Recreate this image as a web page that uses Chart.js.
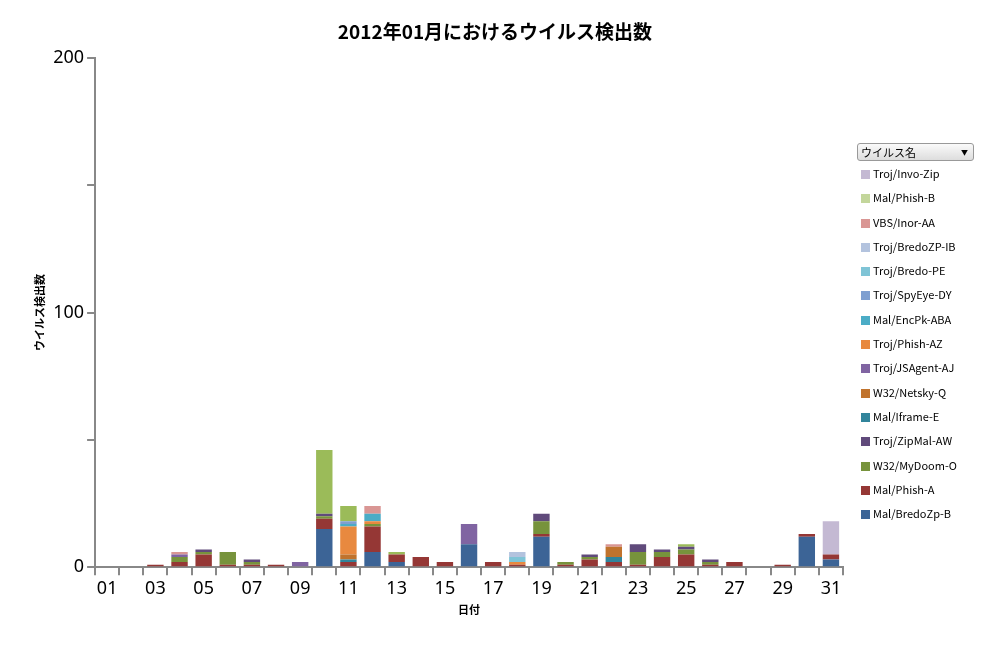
<!DOCTYPE html>
<html>
<head>
<meta charset="utf-8">
<script src="https://cdn.jsdelivr.net/npm/chart.js@4/dist/chart.umd.min.js"></script>
<style>
  body { margin: 0; background: #fff; font-family: "Noto Sans CJK JP", "DejaVu Sans", sans-serif; }
  #wrap { position: relative; width: 987px; height: 648px; }
  #title { position: absolute; left: 0; width: 990px; top: 17px; text-align: center; font-size: 19px; font-weight: bold; color: #000; }
  #legend { position: absolute; left: 857px; top: 143px; width: 117px; font-size: 11px; color: #000; }
  #legend .head { border: 1px solid #999; border-radius: 3px; background: linear-gradient(#fafafa, #ddd); height: 16px; line-height: 16px; padding-left: 3px; position: relative; }
  #legend .head:after { content: "▼"; position: absolute; right: 5px; font-size: 7px; }
  #legend .item { height: 24.3px; line-height: 24.3px; padding-left: 4px; }
  #legend .sw { display: inline-block; width: 9px; height: 9px; margin-right: 3px; vertical-align: -1px; }
</style>
</head>
<body>
<div id="wrap">
  <canvas id="myChart" width="987" height="648"></canvas>
  <div id="title">2012年01月におけるウイルス検出数</div>
  <div id="legend"><div class="head">ウイルス名</div></div>
</div>
<script>
const days = ["01","02","03","04","05","06","07","08","09","10","11","12","13","14","15","16","17","18","19","20","21","22","23","24","25","26","27","28","29","30","31"];
//                   01 02 03 04 05 06 07 08 09 10 11 12 13 14 15 16 17 18 19 20 21 22 23 24 25 26 27 28 29 30 31
const bredoZpB    = [0, 0, 0, 0, 0, 0, 0, 0, 0,15, 0, 6, 2, 0, 0, 9, 0, 0,12, 0, 0, 0, 0, 0, 0, 0, 0, 0, 0,12, 3];
const phishA      = [0, 0, 1, 2, 5, 1, 1, 1, 0, 4, 2,10, 3, 4, 2, 0, 2, 1, 1, 1, 3, 2, 1, 4, 5, 1, 2, 0, 1, 1, 2];
const myDoomO     = [0, 0, 0, 2, 1, 5, 1, 0, 0, 1, 0, 1, 0, 0, 0, 0, 0, 0, 5, 1, 1, 0, 5, 2, 2, 1, 0, 0, 0, 0, 0];
const zipMalAW    = [0, 0, 0, 0, 1, 0, 1, 0, 0, 1, 0, 0, 0, 0, 0, 0, 0, 0, 3, 0, 1, 0, 3, 1, 1, 1, 0, 0, 0, 0, 0];
const iframeE     = [0, 0, 0, 0, 0, 0, 0, 0, 0, 0, 1, 0, 0, 0, 0, 0, 0, 0, 0, 0, 0, 2, 0, 0, 0, 0, 0, 0, 0, 0, 0];
const netskyQ     = [0, 0, 0, 0, 0, 0, 0, 0, 0, 0, 2, 0, 0, 0, 0, 0, 0, 0, 0, 0, 0, 4, 0, 0, 0, 0, 0, 0, 0, 0, 0];
const jsAgentAJ   = [0, 0, 0, 1, 0, 0, 0, 0, 2, 0, 0, 0, 0, 0, 0, 8, 0, 0, 0, 0, 0, 0, 0, 0, 0, 0, 0, 0, 0, 0, 0];
const phishAZ     = [0, 0, 0, 0, 0, 0, 0, 0, 0, 0,11, 1, 0, 0, 0, 0, 0, 1, 0, 0, 0, 0, 0, 0, 0, 0, 0, 0, 0, 0, 0];
const encPkABA    = [0, 0, 0, 0, 0, 0, 0, 0, 0, 0, 1, 3, 0, 0, 0, 0, 0, 0, 0, 0, 0, 0, 0, 0, 0, 0, 0, 0, 0, 0, 0];
const spyEyeDY    = [0, 0, 0, 0, 0, 0, 0, 0, 0, 0, 1, 0, 0, 0, 0, 0, 0, 0, 0, 0, 0, 0, 0, 0, 0, 0, 0, 0, 0, 0, 0];
const bredoPE     = [0, 0, 0, 0, 0, 0, 0, 0, 0, 0, 0, 0, 0, 0, 0, 0, 0, 2, 0, 0, 0, 0, 0, 0, 0, 0, 0, 0, 0, 0, 0];
const bredoZPIB   = [0, 0, 0, 0, 0, 0, 0, 0, 0, 0, 0, 0, 0, 0, 0, 0, 0, 2, 0, 0, 0, 0, 0, 0, 0, 0, 0, 0, 0, 0, 0];
const inorAA      = [0, 0, 0, 1, 0, 0, 0, 0, 0, 0, 0, 3, 0, 0, 0, 0, 0, 0, 0, 0, 0, 1, 0, 0, 0, 0, 0, 0, 0, 0, 0];
const phishB      = [0, 0, 0, 0, 0, 0, 0, 0, 0,25, 6, 0, 1, 0, 0, 0, 0, 0, 0, 0, 0, 0, 0, 0, 1, 0, 0, 0, 0, 0, 0];
const invoZip     = [0, 0, 0, 0, 0, 0, 0, 0, 0, 0, 0, 0, 0, 0, 0, 0, 0, 0, 0, 0, 0, 0, 0, 0, 0, 0, 0, 0, 0, 0,13];

const seriesNames = ["Mal/BredoZp-B","Mal/Phish-A","W32/MyDoom-O","Troj/ZipMal-AW","Mal/Iframe-E","W32/Netsky-Q","Troj/JSAgent-AJ","Troj/Phish-AZ","Mal/EncPk-ABA","Troj/SpyEye-DY","Troj/Bredo-PE","Troj/BredoZP-IB","VBS/Inor-AA","Mal/Phish-B","Troj/Invo-Zip"];
const seriesData = [bredoZpB, phishA, myDoomO, zipMalAW, iframeE, netskyQ, jsAgentAJ, phishAZ, encPkABA, spyEyeDY, bredoPE, bredoZPIB, inorAA, phishB, invoZip];
const seriesColors = ["#3c6496","#953735","#77933c","#604a7b","#31849b","#c0732d","#8064a2","#e8893f","#4bacc6","#7f9fd0","#7fc4d6","#b3c3de","#d99694","#9bbb59","#c4b9d3"];
const legendColors = seriesColors.slice(0, 13).concat(["#c3d69b", "#c4b9d3"]);
const yTicks = [0, 100, 200];

document.addEventListener("DOMContentLoaded", () => {
  const legend = document.getElementById("legend");
  for (let i = seriesNames.length - 1; i >= 0; i--) {
    const d = document.createElement("div");
    d.className = "item";
    d.innerHTML = '<span class="sw" style="background:' + legendColors[i] + '"></span>' + seriesNames[i];
    legend.appendChild(d);
  }

  const ctx = document.getElementById("myChart").getContext("2d");
  new Chart(ctx, {
    type: "bar",
    data: {
      labels: days,
      datasets: seriesNames.map((n, i) => ({
        label: n,
        data: seriesData[i],
        backgroundColor: seriesColors[i],
        barPercentage: 0.68,
        categoryPercentage: 1
      }))
    },
    options: {
      responsive: false,
      animation: false,
      layout: { padding: { left: 29, right: 144, top: 58, bottom: 28 } },
      plugins: {
        legend: { display: false },
        tooltip: { enabled: false },
        title: { display: false }
      },
      scales: {
        x: {
          stacked: true,
          grid: { display: true, drawOnChartArea: false, offset: true, color: "#888", tickLength: 8, lineWidth: 2 },
          border: { color: "#888", width: 2 },
          ticks: {
            color: "#000", font: { size: 18, family: "Noto Sans" }, maxRotation: 0, autoSkip: false,
            callback: (v, i) => (i % 2 === 0 ? days[i] : "")
          },
          title: { display: true, text: "日付", color: "#000", font: { size: 11, weight: "bold", family: "Noto Sans CJK JP" }, padding: { top: 0 } }
        },
        y: {
          stacked: true,
          min: 0, max: 200,
          grid: { display: true, drawOnChartArea: false, color: "#888", tickLength: 8, lineWidth: 2 },
          border: { color: "#888", width: 2 },
          ticks: {
            stepSize: 50, color: "#000", font: { size: 18, family: "Noto Sans" },
            callback: v => (yTicks.includes(v) ? v : "")
          },
          title: { display: true, text: "ウイルス検出数", color: "#000", font: { size: 11, weight: "bold", family: "Noto Sans CJK JP" }, padding: { bottom: 4 } }
        }
      }
    }
  });
});
</script>
</body>
</html>
